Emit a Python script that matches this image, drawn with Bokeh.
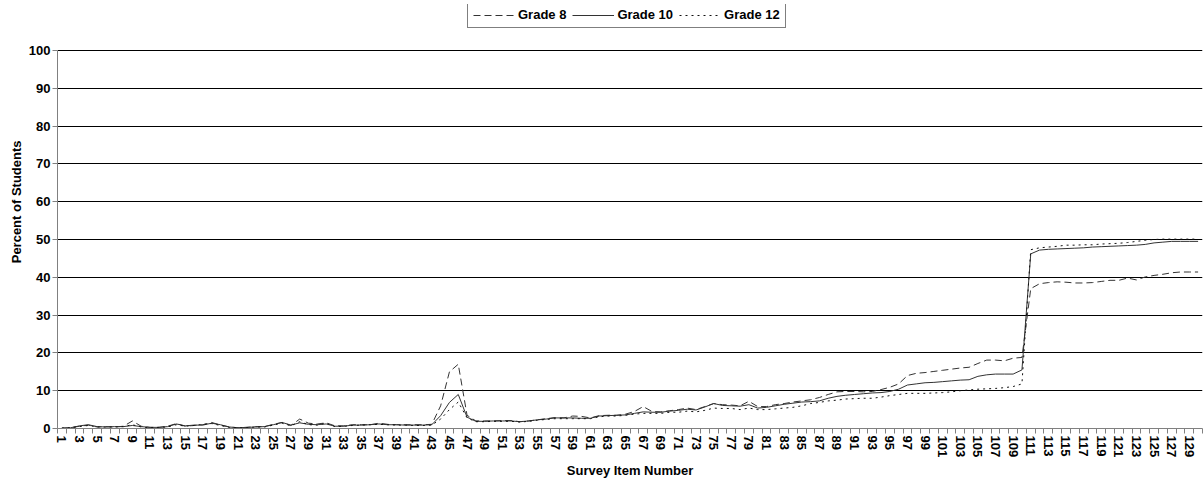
from bokeh.plotting import figure
from bokeh.models import FixedTicker, Legend, LegendItem, Range1d, Title
from bokeh.embed import file_html
from bokeh.resources import INLINE

items = list(range(1, 131))

grade8 = [0.1, 0.2, 0.6, 0.9, 0.4, 0.5, 0.4, 0.6, 2.0, 0.6,
          0.3, 0.3, 0.6, 1.3, 0.6, 0.8, 1.0, 1.6, 0.9, 0.4,
          0.2, 0.3, 0.5, 0.5, 1.1, 1.6, 0.8, 2.5, 1.4, 1.2,
          1.5, 0.7, 0.7, 1.0, 1.0, 1.0, 1.4, 1.1, 1.0, 1.0,
          1.0, 1.0, 1.1, 6.0, 15.0, 17.0, 3.5, 2.0, 2.0, 2.0,
          2.1, 2.1, 1.8, 2.0, 2.3, 2.6, 2.9, 2.8, 3.3, 3.2,
          2.8, 3.4, 3.5, 3.5, 3.8, 4.5, 5.8, 4.5, 4.4, 4.7,
          5.0, 5.4, 5.0, 5.8, 6.6, 6.3, 6.2, 6.0, 7.2, 5.8,
          5.8, 6.3, 6.6, 7.0, 7.3, 7.6, 8.2, 9.0, 9.7, 9.8,
          9.8, 9.7, 9.8, 10.3, 10.9, 11.8, 14.0, 14.6, 14.8, 15.1,
          15.4, 15.7, 16.0, 16.2, 17.2, 18.1, 18.1, 17.9, 18.6, 18.8,
          37.0, 38.3, 38.6, 38.8, 38.7, 38.5, 38.5, 38.6, 38.9, 39.2,
          39.2, 39.8, 39.3, 40.1, 40.5, 40.8, 41.2, 41.4, 41.4, 41.4]

grade10 = [0.1, 0.2, 0.7, 1.0, 0.5, 0.4, 0.5, 0.5, 0.8, 0.5,
           0.3, 0.3, 0.5, 1.2, 0.7, 0.9, 0.9, 1.4, 1.0, 0.4,
           0.2, 0.3, 0.4, 0.5, 1.0, 1.6, 0.9, 1.5, 1.1, 1.0,
           1.2, 0.6, 0.6, 0.9, 0.9, 1.0, 1.2, 1.0, 1.0, 0.9,
           0.9, 0.9, 1.0, 3.4, 6.9, 9.0, 3.0, 1.9, 1.9, 2.0,
           2.0, 2.0, 1.8, 2.0, 2.3, 2.5, 2.8, 2.8, 2.8, 2.7,
           2.7, 3.3, 3.4, 3.5, 3.6, 4.0, 4.4, 4.3, 4.3, 4.6,
           4.8, 5.1, 4.9, 5.7, 6.6, 6.1, 6.0, 5.9, 6.3, 5.4,
           5.6, 6.0, 6.4, 6.7, 7.0, 7.1, 7.3, 8.0, 8.5, 8.8,
           9.0, 9.2, 9.4, 9.5, 9.8, 10.4, 11.5, 11.8, 12.1, 12.2,
           12.4, 12.6, 12.8, 12.9, 13.8, 14.2, 14.4, 14.4, 14.4, 15.5,
           46.2, 47.2, 47.4, 47.5, 47.6, 47.7, 47.8, 48.0, 48.1, 48.2,
           48.3, 48.4, 48.5, 48.7, 49.1, 49.3, 49.5, 49.5, 49.5, 49.5]

grade12 = [0.1, 0.2, 0.5, 0.8, 0.4, 0.4, 0.4, 0.5, 1.0, 0.4,
           0.2, 0.3, 0.4, 1.0, 0.6, 0.8, 1.1, 1.3, 0.8, 0.3,
           0.2, 0.2, 0.4, 0.4, 0.9, 1.4, 0.7, 1.8, 1.0, 0.9,
           1.4, 0.5, 0.6, 0.8, 0.9, 1.0, 1.1, 1.0, 0.9, 0.9,
           0.8, 0.8, 0.9, 2.5, 5.0, 7.0, 2.8, 1.8, 1.8, 1.9,
           1.9, 1.9, 1.7, 1.9, 2.2, 2.4, 2.6, 2.6, 2.6, 2.6,
           2.6, 3.1, 3.3, 3.3, 3.5, 3.8, 4.0, 4.0, 4.0, 4.3,
           4.3, 4.6, 4.4, 4.8, 5.4, 5.3, 5.3, 5.0, 5.4, 5.0,
           5.0, 5.2, 5.4, 5.6, 6.0, 6.6, 6.9, 7.3, 7.5, 7.8,
           7.9, 8.0, 8.0, 8.3, 8.7, 9.0, 9.3, 9.3, 9.3, 9.4,
           9.5, 9.7, 10.0, 10.2, 10.4, 10.5, 10.6, 10.8, 11.1, 11.8,
           47.3, 47.8, 48.0, 48.2, 48.5, 48.5, 48.6, 48.6, 48.8, 48.9,
           49.0, 49.2, 49.5, 49.8, 50.0, 50.1, 50.1, 50.1, 50.1, 50.1]

y_ticks = [0, 10, 20, 30, 40, 50, 60, 70, 80, 90, 100]
x_tick_labels = [i for i in items if i % 2 == 1]
series_names = ["Grade 8", "Grade 10", "Grade 12"]

FONT = "Liberation Sans"

# frame spans 4..428 px; the 0..100 axis occupies 50..428 px (room for legend on top)
Y_TOP = 100 * 424 / 378

p = figure(width=1203, height=481, output_backend="svg", toolbar_location=None,
           x_range=Range1d(0.5, 130.5), y_range=Range1d(0, Y_TOP),
           min_border_left=57, min_border_right=1, min_border_top=4,
           min_border_bottom=53)
p.outline_line_color = None
p.background_fill_color = "white"
p.border_fill_color = "white"

p.xgrid.visible = False
p.ygrid.ticker = FixedTicker(ticks=y_ticks)
p.ygrid.grid_line_color = "black"
p.ygrid.grid_line_width = 1

p.yaxis.ticker = FixedTicker(ticks=y_ticks)
p.yaxis.bounds = (0, 100)
p.xaxis.ticker = FixedTicker(ticks=x_tick_labels,
                             minor_ticks=[i + 0.5 for i in range(0, 131)])

for ax in (p.xaxis[0], p.yaxis[0]):
    ax.axis_line_color = "#808080"
    ax.axis_line_width = 1
    ax.major_label_text_font = FONT
    ax.major_label_text_font_style = "bold"
    ax.major_label_text_font_size = "13px"
    ax.major_label_text_color = "black"
    ax.axis_label_text_font = FONT
    ax.axis_label_text_font_style = "bold"
    ax.axis_label_text_font_size = "13px"
    ax.axis_label_text_color = "black"

p.xaxis.major_tick_line_color = None
p.xaxis.minor_tick_line_color = "#808080"
p.xaxis.minor_tick_out = 5
p.xaxis.minor_tick_in = 0
p.xaxis.major_label_orientation = "vertical"
p.xaxis.major_label_standoff = 1
p.xaxis.axis_label = "Survey Item Number"
p.xaxis.axis_label_standoff = 3

p.yaxis.major_tick_line_color = "#808080"
p.yaxis.major_tick_out = 5
p.yaxis.major_tick_in = 0
p.yaxis.minor_tick_line_color = None
p.yaxis.major_label_standoff = 2

ytitle = Title(text="Percent of Students", align="right", offset=136,
               text_font=FONT, text_font_size="13px", text_font_style="bold",
               text_color="black", standoff=4)
p.add_layout(ytitle, "left")

r8 = p.line(items, grade8, line_color="#333333", line_width=1, line_dash="7 4")
r10 = p.line(items, grade10, line_color="#333333", line_width=1)
r12 = p.line(items, grade12, line_color="#111111", line_width=1, line_dash="2 4")

legend = Legend(items=[LegendItem(label=series_names[0], renderers=[r8]),
                       LegendItem(label=series_names[1], renderers=[r10]),
                       LegendItem(label=series_names[2], renderers=[r12])],
                orientation="horizontal", location=(410, 400),
                border_line_color="black", border_line_width=1,
                background_fill_color="white", background_fill_alpha=1,
                label_text_font=FONT, label_text_font_style="bold",
                label_text_font_size="13px", label_text_color="black",
                glyph_width=42, glyph_height=14, label_height=14,
                label_standoff=3, spacing=6, padding=5, margin=0)
p.add_layout(legend, "center")

open("out.html", "w").write(file_html(p, INLINE))
